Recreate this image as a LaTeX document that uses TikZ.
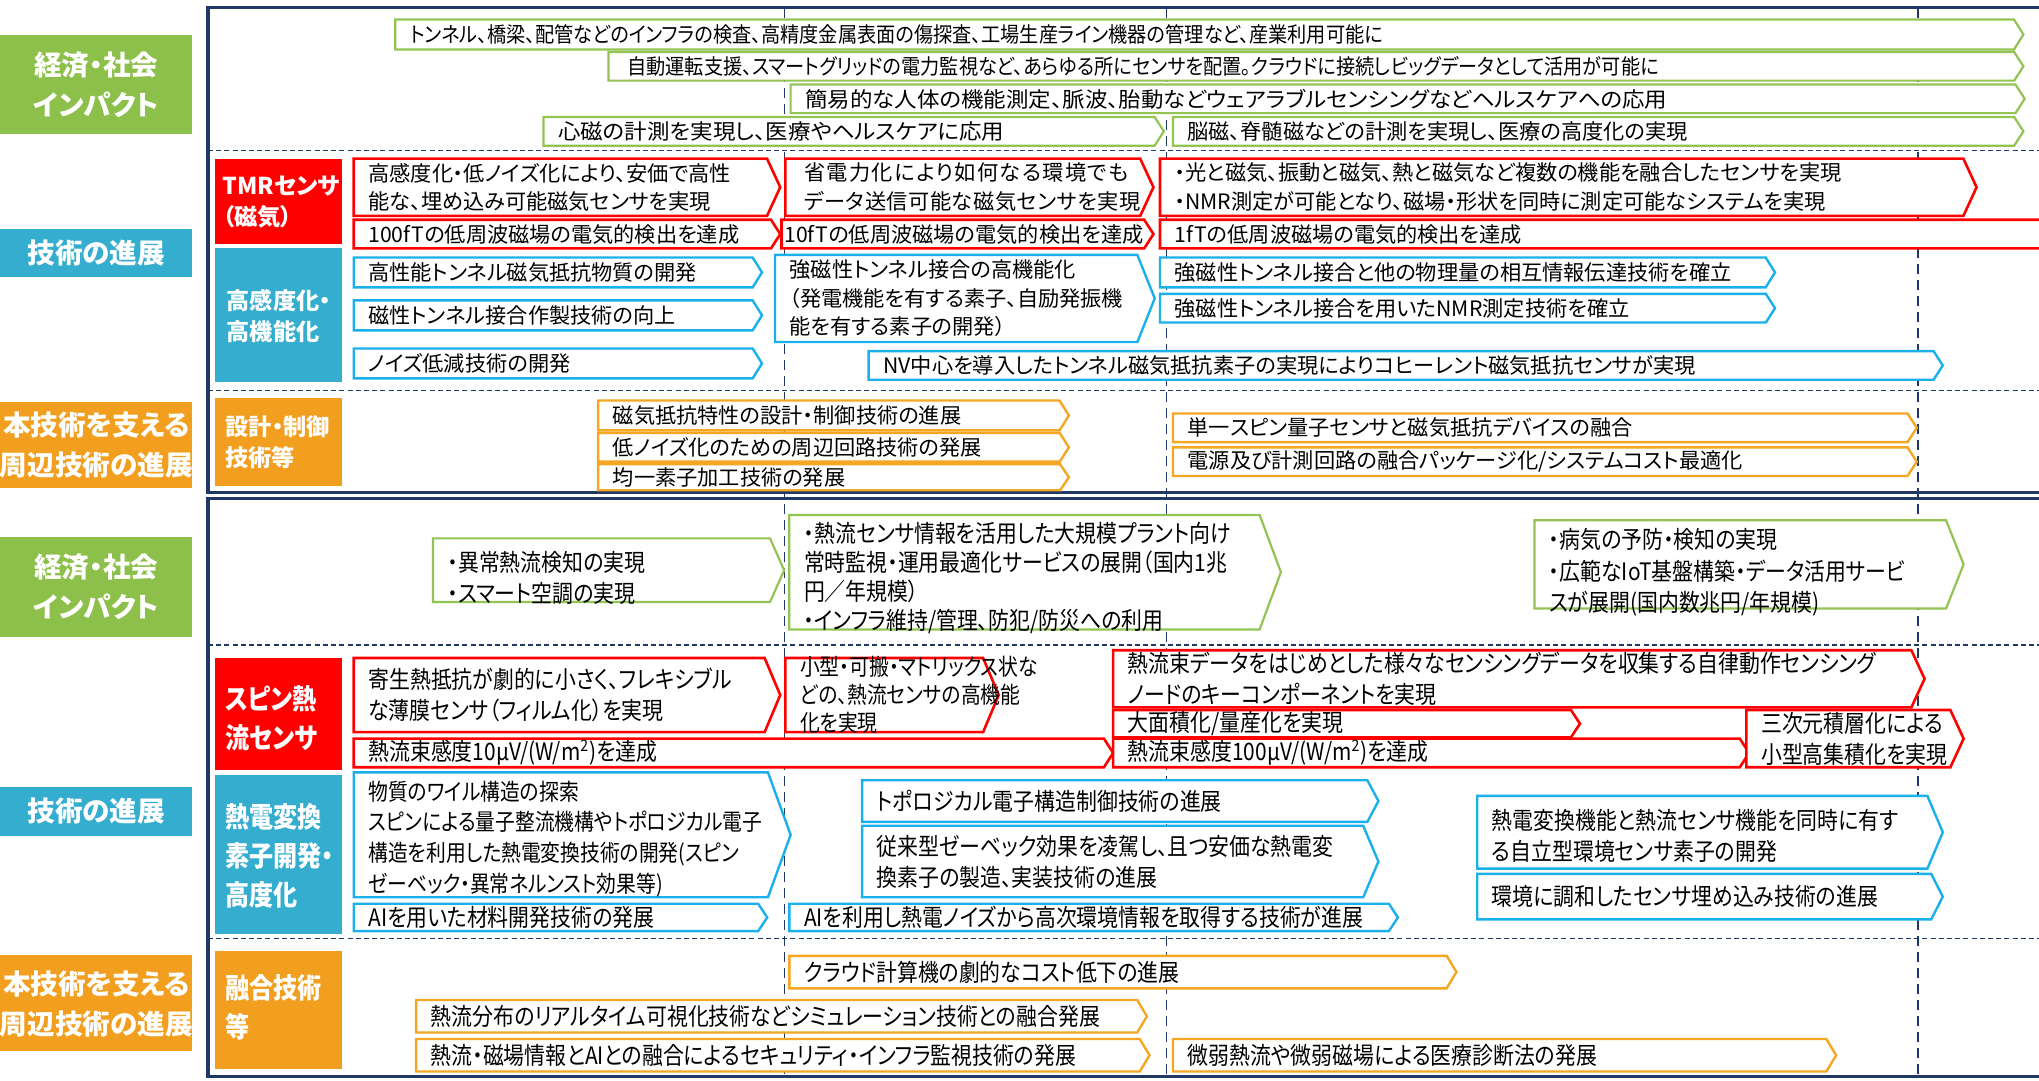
\documentclass[tikz,border=0pt]{standalone}
\usepackage{fontspec}
\setmainfont[RawFeature=+palt]{Noto Sans CJK JP}
\newfontfamily\condjp[FakeStretch=0.86,RawFeature=+palt]{Noto Sans CJK JP}
\newfontfamily\lowjp[FakeStretch=0.87,RawFeature=+palt]{Noto Sans CJK JP}
\newfontfamily\narrowjp[FakeStretch=0.905,RawFeature=+palt]{Noto Sans CJK JP}
\newfontfamily\widejp[FakeStretch=1.06,RawFeature=+palt]{Noto Sans CJK JP}
\newfontfamily\spacedjp[LetterSpace=6.5,RawFeature=+palt]{Noto Sans CJK JP}
\newfontfamily\spacedjpb[LetterSpace=2.5,RawFeature=+palt]{Noto Sans CJK JP}

\definecolor{navyline}{HTML}{1F3864}
\definecolor{grnline}{HTML}{92C353}
\definecolor{grnfill}{HTML}{8DC04A}
\definecolor{redline}{HTML}{FF0000}
\definecolor{bluline}{HTML}{1AB0EC}
\definecolor{blufill}{HTML}{35ADCF}
\definecolor{orgline}{HTML}{F5A623}
\definecolor{orgfill}{HTML}{F29F1F}

\newcommand{\rmbox}[8][]{%
  \pgfmathsetmacro{\tipw}{4+0.14*(#7-#5)}%
  \draw[#2] (#4,#5) -- ({#6-\tipw},#5) -- (#6,{(#5+#7)/2}) -- ({#6-\tipw},#7) -- (#4,#7) -- cycle;
  \node[boxtext,#1] (#3) at ({#4+11},{(#5+#7)/2}) {#8};}

\begin{document}
\begin{tikzpicture}[x=0.65pt,y=-0.65pt,
    gbox/.style={draw=grnline,fill=white,line width=1.1pt},
    rbox/.style={draw=redline,fill=white,line width=1.3pt},
    bbox/.style={draw=bluline,fill=white,line width=1.2pt},
    obox/.style={draw=orgline,fill=white,line width=1.2pt},
    uptext/.style={anchor=west,inner sep=0pt,align=left,font=\fontsize{10.6}{14.3}\selectfont},
    lowtext/.style={anchor=west,inner sep=0pt,align=left,font=\lowjp\fontsize{12}{15.6}\selectfont},
    boxtext/.style=uptext,
    smalllow/.style={font=\condjp\fontsize{11.5}{15.4}\selectfont},
    outlbl/.style={white,inner sep=0pt,align=center,font=\bfseries\fontsize{13.8}{20}\selectfont},
    inlbl/.style={white,anchor=west,inner sep=0pt,align=left,font=\bfseries\fontsize{11.6}{15.5}\selectfont},
    inlbl2/.style={white,anchor=west,inner sep=0pt,align=left,font=\condjp\bfseries\fontsize{14}{19.5}\selectfont},
    hdash/.style={navyline,line width=0.6pt,dash pattern=on 2.5pt off 1.6pt},
    vdash/.style={navyline,line width=0.6pt,dash pattern=on 5pt off 3pt}]
    \useasboundingbox (0,0) rectangle (1568,831);

    \draw[hdash]
        (160,116) -- (1568,116)
        (160,300) -- (1568,300)
        (160,496) -- (1568,496)
        (160,722) -- (1568,722)
    ;
    \draw[vdash]
        (603,6) -- (603,828)
        (897,6) -- (897,828)
        (1475,6) -- (1475,828)
    ;
    \draw[navyline,line width=1.6pt]
        (1570,6) -- (160,6) -- (160,379) -- (1570,379)
        (1570,383.5) -- (160,383.5) -- (160,828) -- (1570,828)
    ;

    \fill[grnfill] (0,27) rectangle (148,103);
    \node[outlbl] (econ1) at (74,65) {経済・社会\\インパクト};
    \fill[blufill] (0,176) rectangle (148,213);
    \node[outlbl] (tech1) at (74,194.5) {技術の進展};
    \fill[orgfill] (0,309) rectangle (148,375);
    \node[outlbl] (supp1) at (74,342) {本技術を支える\\周辺技術の進展};
    \fill[grnfill] (0,413) rectangle (148,490);
    \node[outlbl] (econ2) at (74,451.5) {経済・社会\\インパクト};
    \fill[blufill] (0,605) rectangle (148,643);
    \node[outlbl] (tech2) at (74,624) {技術の進展};
    \fill[orgfill] (0,734) rectangle (148,808);
    \node[outlbl] (supp2) at (74,772) {本技術を支える\\周辺技術の進展};

    \fill[redline] (165,122) rectangle (263,188);
    \node[inlbl] (tmr) at (171,155) {TMRセンサ\\（磁気）};
    \fill[blufill] (165,191) rectangle (263,294);
    \node[inlbl] (hisens) at (174,243) {高感度化・\\高機能化};
    \fill[orgfill] (165,306) rectangle (263,374);
    \node[inlbl] (design) at (173,340) {設計・制御\\技術等};
    \fill[redline] (165,506) rectangle (263,592);
    \node[inlbl2] (spin) at (173,552) {スピン熱\\流センサ};
    \fill[blufill] (165,596) rectangle (263,718);
    \node[inlbl2] (thermo) at (173,658) {熱電変換\\素子開発・\\高度化};
    \fill[orgfill] (165,731) rectangle (263,822);
    \node[inlbl2] (fusion) at (173,775) {融合技術\\等};

    \rmbox[font=\narrowjp\fontsize{10.6}{14.3}\selectfont]{gbox}{imp1}{304}{15}{1556}{38}{トンネル、橋梁、配管などのインフラの検査、高精度金属表面の傷探査、工場生産ライン機器の管理など、産業利用可能に}
    \rmbox[font=\narrowjp\fontsize{10.6}{14.3}\selectfont,xshift=2pt]{gbox}{imp2}{468}{40}{1556}{62}{自動運転支援、スマートグリッドの電力監視など、あらゆる所にセンサを配置。クラウドに接続しビッグデータとして活用が可能に}
    \rmbox[font=\widejp\fontsize{10.6}{14.3}\selectfont]{gbox}{imp3}{608}{65}{1557}{87}{簡易的な人体の機能測定、脈波、胎動などウェアラブルセンシングなどヘルスケアへの応用}
    \rmbox[font=\widejp\fontsize{10.6}{14.3}\selectfont]{gbox}{imp4}{418}{90}{895}{112}{心磁の計測を実現し、医療やヘルスケアに応用}
    \rmbox{gbox}{imp5}{902}{90}{1556}{112}{脳磁、脊髄磁などの計測を実現し、医療の高度化の実現}

    \rmbox{rbox}{tmr1}{272}{122}{600}{166}{高感度化・低ノイズ化により、安価で高性\\能な、埋め込み可能磁気センサを実現}
    \rmbox[xshift=2pt]{rbox}{tmr2}{604}{122}{887}{166}{{\spacedjp 省電力化により如何なる環境でも}\\{\spacedjpb データ送信可能な磁気センサを実現}}
    \rmbox{rbox}{tmr3}{892}{122}{1520}{166}{・光と磁気、振動と磁気、熱と磁気など複数の機能を融合したセンサを実現\\・NMR測定が可能となり、磁場・形状を同時に測定可能なシステムを実現}
    \rmbox{rbox}{ft100}{272}{169}{600}{191}{100fTの低周波磁場の電気的検出を達成}
    \rmbox[xshift=-6pt]{rbox}{ft10}{601}{169}{887}{191}{10fTの低周波磁場の電気的検出を達成}
    \rmbox{rbox}{ft1}{892}{169}{1600}{191}{1fTの低周波磁場の電気的検出を達成}

    \rmbox{bbox}{tun1}{272}{198}{586}{221}{高性能トンネル磁気抵抗物質の開発}
    \rmbox{bbox}{tun2}{272}{231}{586}{254}{磁性トンネル接合作製技術の向上}
    \rmbox{bbox}{tun3}{272}{268}{586}{291}{ノイズ低減技術の開発}
    \rmbox{bbox}{tun4}{596}{196}{888}{263}{強磁性トンネル接合の高機能化\\（発電機能を有する素子、自励発振機\\能を有する素子の開発）}
    \rmbox{bbox}{tun5}{892}{198}{1365}{221}{強磁性トンネル接合と他の物理量の相互情報伝達技術を確立}
    \rmbox{bbox}{tun6}{892}{226}{1365}{248}{強磁性トンネル接合を用いたNMR測定技術を確立}
    \rmbox{bbox}{tun7}{668}{270}{1494}{292}{NV中心を導入したトンネル磁気抵抗素子の実現によりコヒーレント磁気抵抗センサが実現}

    \rmbox{obox}{des1}{460}{308}{822}{331}{磁気抵抗特性の設計・制御技術の進展}
    \rmbox{obox}{des2}{460}{333}{822}{355}{低ノイズ化のための周辺回路技術の発展}
    \rmbox{obox}{des3}{460}{357}{822}{377}{均一素子加工技術の発展}
    \rmbox{obox}{des4}{902}{318}{1474}{340}{単一スピン量子センサと磁気抵抗デバイスの融合}
    \rmbox{obox}{des5}{902}{344}{1474}{366}{電源及び計測回路の融合パッケージ化/システムコスト最適化}

    \begin{scope}[boxtext/.style=lowtext]
    \rmbox[yshift=-4pt]{gbox}{heat1}{333}{414}{603}{463}{・異常熱流検知の実現\\・スマート空調の実現}
    \rmbox[yshift=-3pt,font=\lowjp\fontsize{12}{14.6}\selectfont]{gbox}{heat2}{607}{396}{985}{484}{・熱流センサ情報を活用した大規模プラント向け\\常時監視・運用最適化サービスの展開（国内1兆\\円／年規模）\\・インフラ維持/管理、防犯/防災への利用}
    \rmbox[yshift=-4pt]{gbox}{heat3}{1180}{400}{1510}{468}{・病気の予防・検知の実現\\・広範なIoT基盤構築・データ活用サービ\\スが展開(国内数兆円/年規模)}

    \rmbox{rbox}{spin1}{272}{506}{600}{563}{寄生熱抵抗が劇的に小さく、フレキシブル\\な薄膜センサ（フィルム化）を実現}
    \rmbox[font=\condjp\fontsize{11.5}{14}\selectfont]{rbox}{spin2}{604}{506}{768}{563}{小型・可搬・マトリックス状な\\どの、熱流センサの高機能\\化を実現}
    \rmbox{rbox}{spin3}{856}{500}{1480}{544}{熱流束データをはじめとした様々なセンシングデータを収集する自律動作センシング\\ノードのキーコンポーネントを実現}
    \rmbox{rbox}{spin4}{856}{546}{1215}{567}{大面積化/量産化を実現}
    \rmbox{rbox}{spin6}{272}{568}{856}{590}{熱流束感度10μV/(W/m\textsuperscript{2})を達成}
    \rmbox{rbox}{spin7}{856}{568}{1345}{590}{熱流束感度100μV/(W/m\textsuperscript{2})を達成}
    \rmbox{rbox}{spin5}{1343}{546}{1510}{590}{三次元積層化による\\小型高集積化を実現}

    \rmbox[smalllow,yshift=-2pt]{bbox}{tel1}{272}{594}{608}{690}{物質のワイル構造の探索\\スピンによる量子整流機構やトポロジカル電子\\構造を利用した熱電変換技術の開発(スピン\\ゼーベック・異常ネルンスト効果等)}
    \rmbox{bbox}{tel2}{272}{695}{590}{716}{AIを用いた材料開発技術の発展}
    \rmbox{bbox}{tel3}{663}{600}{1060}{632}{トポロジカル電子構造制御技術の進展}
    \rmbox{bbox}{tel4}{663}{635}{1060}{690}{従来型ゼーベック効果を凌駕し、且つ安価な熱電変\\換素子の製造、実装技術の進展}
    \rmbox{bbox}{tel5}{607}{695}{1075}{716}{AIを利用し熱電ノイズから高次環境情報を取得する技術が進展}
    \rmbox[yshift=-2pt]{bbox}{tel6}{1136}{612}{1494}{668}{熱電変換機能と熱流センサ機能を同時に有す\\る自立型環境センサ素子の開発}
    \rmbox{bbox}{tel7}{1136}{672}{1494}{707}{環境に調和したセンサ埋め込み技術の進展}

    \rmbox{obox}{fus1}{607}{735}{1120}{760}{クラウド計算機の劇的なコスト低下の進展}
    \rmbox{obox}{fus2}{320}{769}{882}{794}{熱流分布のリアルタイム可視化技術などシミュレーション技術との融合発展}
    \rmbox{obox}{fus3}{320}{799}{884}{824}{熱流・磁場情報とAIとの融合によるセキュリティ・インフラ監視技術の発展}
    \rmbox{obox}{fus4}{902}{799}{1412}{824}{微弱熱流や微弱磁場による医療診断法の発展}
    \end{scope}
\end{tikzpicture}
\end{document}
